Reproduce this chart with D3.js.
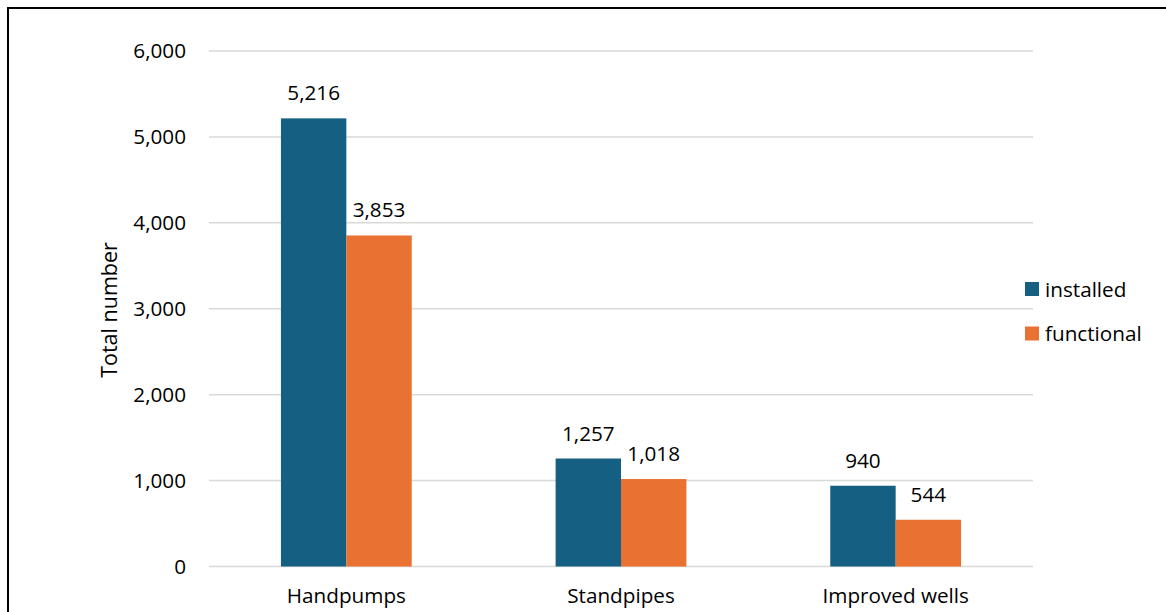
<!DOCTYPE html>
<html>
<head>
<meta charset="utf-8">
<script src="https://cdn.jsdelivr.net/npm/d3@7"></script>
<style>
  html, body { margin: 0; padding: 0; background: #fff; }
  svg { display: block; }
  text { font-family: "Open Sans", "Noto Sans", sans-serif; fill: #000; }
</style>
</head>
<body>
<svg id="chart" width="1166" height="612"></svg>
<script>
// Water points by type
const categories = ["Handpumps", "Standpipes", "Improved wells"];
const seriesNames = ["installed", "functional"];
const installed = [5216, 1257, 940];
const functional = [3853, 1018, 544];
const yTicks = [0, 1000, 2000, 3000, 4000, 5000, 6000];
const colors = ["#156082", "#E97132"];

const seriesValues = [installed, functional];

const svg = d3.select("#chart");
const plot = { left: 209, right: 1033, top: 51, bottom: 566.5 };
const fmt = d3.format(",");
const FS = 20.7;

// Outer frame
svg.append("rect")
  .attr("x", 8).attr("y", 8)
  .attr("width", 1300).attr("height", 800)
  .attr("fill", "none").attr("stroke", "#000").attr("stroke-width", 2);

const x = d3.scaleBand().domain(categories).range([plot.left, plot.right]);
const xInner = d3.scaleBand().domain(seriesNames).range([0, x.bandwidth()])
  .paddingInner(0).paddingOuter(1.1);
const y = d3.scaleLinear().domain([0, 6000]).range([plot.bottom, plot.top]);

// Gridlines
svg.append("g").selectAll("line").data(yTicks).join("line")
  .attr("x1", plot.left).attr("x2", plot.right)
  .attr("y1", d => y(d)).attr("y2", d => y(d))
  .attr("stroke", "#d9d9d9").attr("stroke-width", 1.5);

// Y axis labels
const yAxis = d3.axisLeft(y).tickValues(yTicks).tickFormat(fmt).tickSize(0).tickPadding(23);
const yg = svg.append("g").attr("transform", `translate(${plot.left},0)`).call(yAxis);
yg.select(".domain").remove();
yg.selectAll("text").attr("font-size", FS).attr("font-family", "'Open Sans', sans-serif").attr("fill", "#000");

// X axis labels
const xAxis = d3.axisBottom(x).tickSize(0).tickPadding(22);
const xg = svg.append("g").attr("transform", `translate(0,${plot.bottom})`).call(xAxis);
xg.select(".domain").remove();
xg.selectAll("text").attr("font-size", FS).attr("font-family", "'Open Sans', sans-serif").attr("fill", "#000");

// Bars and value labels
const groups = svg.append("g").selectAll("g").data(categories).join("g")
  .attr("transform", d => `translate(${x(d)},0)`);

seriesNames.forEach((s, si) => {
  groups.append("rect")
    .attr("x", xInner(s))
    .attr("width", xInner.bandwidth())
    .attr("y", (d, i) => y(seriesValues[si][i]))
    .attr("height", (d, i) => y(0) - y(seriesValues[si][i]))
    .attr("fill", colors[si]);
  groups.append("text")
    .attr("x", xInner(s) + xInner.bandwidth() / 2)
    .attr("y", (d, i) => y(seriesValues[si][i]) - 18)
    .attr("text-anchor", "middle")
    .attr("font-size", FS)
    .text((d, i) => fmt(seriesValues[si][i]));
});

// Y axis title
svg.append("text")
  .attr("transform", "translate(117,310) rotate(-90)")
  .attr("text-anchor", "middle")
  .attr("font-size", 21.5)
  .text("Total number");

// Legend
const legend = svg.append("g").selectAll("g").data(seriesNames).join("g")
  .attr("transform", (d, i) => `translate(1025,${282 + i * 44.5})`);
legend.append("rect").attr("width", 14).attr("height", 14).attr("fill", (d, i) => colors[i]);
legend.append("text").attr("x", 20).attr("y", 14.5).attr("font-size", FS).text(d => d);
</script>
</body>
</html>
